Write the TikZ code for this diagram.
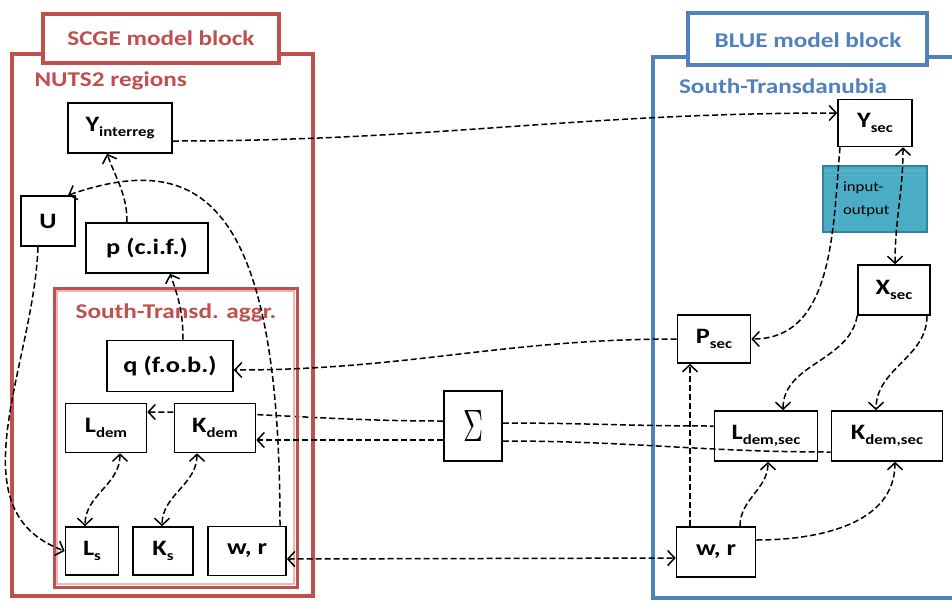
\documentclass[tikz,border=0pt]{standalone}
\usepackage{fontspec}
\setmainfont{Carlito}[FakeStretch=1.2]
\usetikzlibrary{arrows.meta,backgrounds}
\definecolor{scgered}{HTML}{C0504D}
\definecolor{scgepink}{HTML}{E6B9B8}
\definecolor{blueblock}{HTML}{4F81BD}
\definecolor{iofill}{HTML}{4BACC6}
\definecolor{ioedge}{HTML}{31849B}
\definecolor{ioline}{HTML}{5FB3CA}
\newcommand{\lo}[1]{\raisebox{-0.45ex}{\fontsize{14}{14}\selectfont #1}}
\tikzset{barb/.tip={Straight Barb[length=7pt,width=15pt,line width=1.5pt]}}

\begin{document}
\begin{tikzpicture}[x=1pt,y=-1pt,
	blk/.style={draw,line width=1.6pt,fill=white,inner sep=0pt,font=\bfseries\fontsize{22}{24}\selectfont},
	ttl/.style={font=\bfseries\fontsize{21}{24}\selectfont},
	lnk/.style={line width=1.5pt,dash pattern=on 6pt off 3pt}]
		\useasboundingbox (0,0) rectangle (952,600);
		\clip (0,0) rectangle (952,600);
		
		\draw[scgered,line width=4pt] (12,54) rectangle (313,596);
		\draw[scgered,line width=3.5pt,fill=white] (43,14) rectangle (279,63);
		\node[ttl,text=scgered] (scgetitle) at (161,38) {SCGE model block};
		\node[ttl,text=scgered,anchor=west] (nuts) at (31,81) {NUTS2 regions};
		\draw[scgepink,line width=2pt] (57,291) rectangle (294,584);
		\draw[scgered,line width=3pt] (54,288) rectangle (297,587);
		\node[ttl,text=scgered] (aggr) at (176,313) {South-Transd. aggr.};
		
		\draw[blueblock,line width=4pt] (653,57) rectangle (970,598);
		\draw[blueblock,line width=3.5pt,fill=white] (688,13) rectangle (927,65);
		\node[ttl,text=blueblock] (bluetitle) at (808,40) {BLUE model block};
		\node[ttl,text=blueblock] (stdanubia) at (783,86) {South-Transdanubia};
		
		\node[blk,minimum width=104pt,minimum height=50pt] (yreg) at (120,128) {Y\lo{interreg}};
		\node[blk,minimum width=54pt,minimum height=50pt] (u) at (48,221) {U};
		\node[blk,minimum width=122pt,minimum height=50pt] (pcif) at (147,248) {p (c.i.f.)};
		\node[blk,minimum width=126pt,minimum height=51pt] (qfob) at (170,366) {q (f.o.b.)};
		\node[blk,minimum width=81pt,minimum height=49pt] (ldem) at (106,428) {L\lo{dem}};
		\node[blk,minimum width=81pt,minimum height=49pt] (kdem) at (215,428) {K\lo{dem}};
		\node[blk,minimum width=53pt,minimum height=48pt] (ls) at (92,551) {L\lo{s}};
		\node[blk,minimum width=60pt,minimum height=48pt] (ks) at (163,551) {K\lo{s}};
		\node[blk,minimum width=78pt,minimum height=49pt] (wrl) at (247,551) {w, r};
		
		\node[blk,minimum width=58pt,minimum height=70pt,font=\normalfont] (sum) at (473,426) {\resizebox{20pt}{31pt}{$\Sigma$}};
		
		\node[blk,minimum width=74pt,minimum height=47pt] (ysec) at (875,123) {Y\lo{sec}};
		\node[draw=ioedge,fill=iofill,line width=2pt,minimum width=104pt,minimum height=66pt,inner sep=0pt,text width=64pt,align=left,font=\fontsize{14}{23}\selectfont] (io) at (875,199) {input-\\output};
		\draw[ioline,line width=1pt] ([xshift=2pt,yshift=-5pt]io.north west) -- ([xshift=-2pt,yshift=-5pt]io.north east);
		\draw[ioline,line width=1pt] ([xshift=2pt,yshift=-10pt]io.north west) -- ([xshift=-2pt,yshift=-10pt]io.north east);
		\draw[ioline,line width=1pt] ([xshift=15pt,yshift=-10pt]io.north west) -- ([xshift=15pt,yshift=2pt]io.south west);
		\node[blk,minimum width=72pt,minimum height=50pt] (xsec) at (894,290) {X\lo{sec}};
		\node[blk,minimum width=73pt,minimum height=48pt] (psec) at (714,339) {P\lo{sec}};
		\node[blk,minimum width=103pt,minimum height=50pt] (ldems) at (766,436) {L\lo{dem,sec}};
		\node[blk,minimum width=111pt,minimum height=50pt] (kdems) at (887,436) {K\lo{dem,sec}};
		\node[blk,minimum width=79pt,minimum height=50pt] (wrr) at (716,552) {w, r};
		
		\draw[lnk,-barb] ([yshift=-13pt]yreg.east) to[out=0,in=180] ([yshift=10pt]ysec.west);
		\draw[lnk,-barb] ([xshift=-20pt]pcif.north) to[out=90,in=-70] ([xshift=-13pt]yreg.south);
		\draw[lnk,-barb] ([xshift=13pt]qfob.north) to[out=90,in=-70] ([xshift=23pt]pcif.south);
		\draw[lnk,-barb] ([xshift=-10pt]u.south) to[out=-92,in=160] (ls.west);
		\draw[lnk,-barb] ([xshift=33pt]wrl.north) .. controls +(0,-330) and +(130,-45) .. ([xshift=20pt]u.north);
		\draw[lnk,-barb] (psec.west) to[out=180,in=0] ([yshift=-4pt]qfob.east);
		\begin{pgfonlayer}{background}
			\draw[lnk,-barb] ([yshift=5pt]sum.west) to[out=180,in=0] ([yshift=16pt]ldem.east);
		\end{pgfonlayer}
		\draw[lnk,-barb] ([yshift=-14pt]sum.west) to[out=180,in=0] ([yshift=-12pt]kdem.east);
		\draw[lnk] ([yshift=3pt]sum.east) to[out=0,in=180] ([yshift=10pt]ldems.west);
		\draw[lnk] ([yshift=-15pt]sum.east) to[out=0,in=180] ([yshift=-16pt]kdems.west);
		
		\draw[lnk,barb-barb] ([xshift=14pt]ldem.south) to[out=-90,in=90] ([xshift=-7pt]ls.north);
		\draw[lnk,barb-barb] ([xshift=-18pt]kdem.south) to[out=-90,in=90] ([xshift=-1pt]ks.north);
		\draw[lnk,barb-barb] ([yshift=-8pt]wrl.east) -- ([yshift=-6pt]wrr.west);
		\draw[lnk,barb-barb] ([xshift=28pt]ysec.south) to[out=-90,in=90] ([xshift=1pt]xsec.north);
		
		\draw[lnk,-barb] ([xshift=-35pt]ysec.south) to[out=-95,in=0] (psec.east);
		\draw[lnk,-barb] (xsec.south west) to[out=-100,in=90] ([xshift=17pt]ldems.north);
		\draw[lnk,-barb] ([xshift=33pt]xsec.south) to[out=-90,in=90] ([xshift=-11pt]kdems.north);
		\draw[lnk,-barb] ([xshift=24pt]wrr.north) to[out=90,in=-90] ([xshift=2pt]ldems.south);
		\draw[lnk,-barb] ([yshift=12pt]wrr.east) to[out=0,in=-90] ([xshift=8pt]kdems.south);
		\draw[lnk,-barb] ([xshift=-26pt]wrr.north) -- ([xshift=-24pt]psec.south);
		
		\end{tikzpicture}
\end{document}
